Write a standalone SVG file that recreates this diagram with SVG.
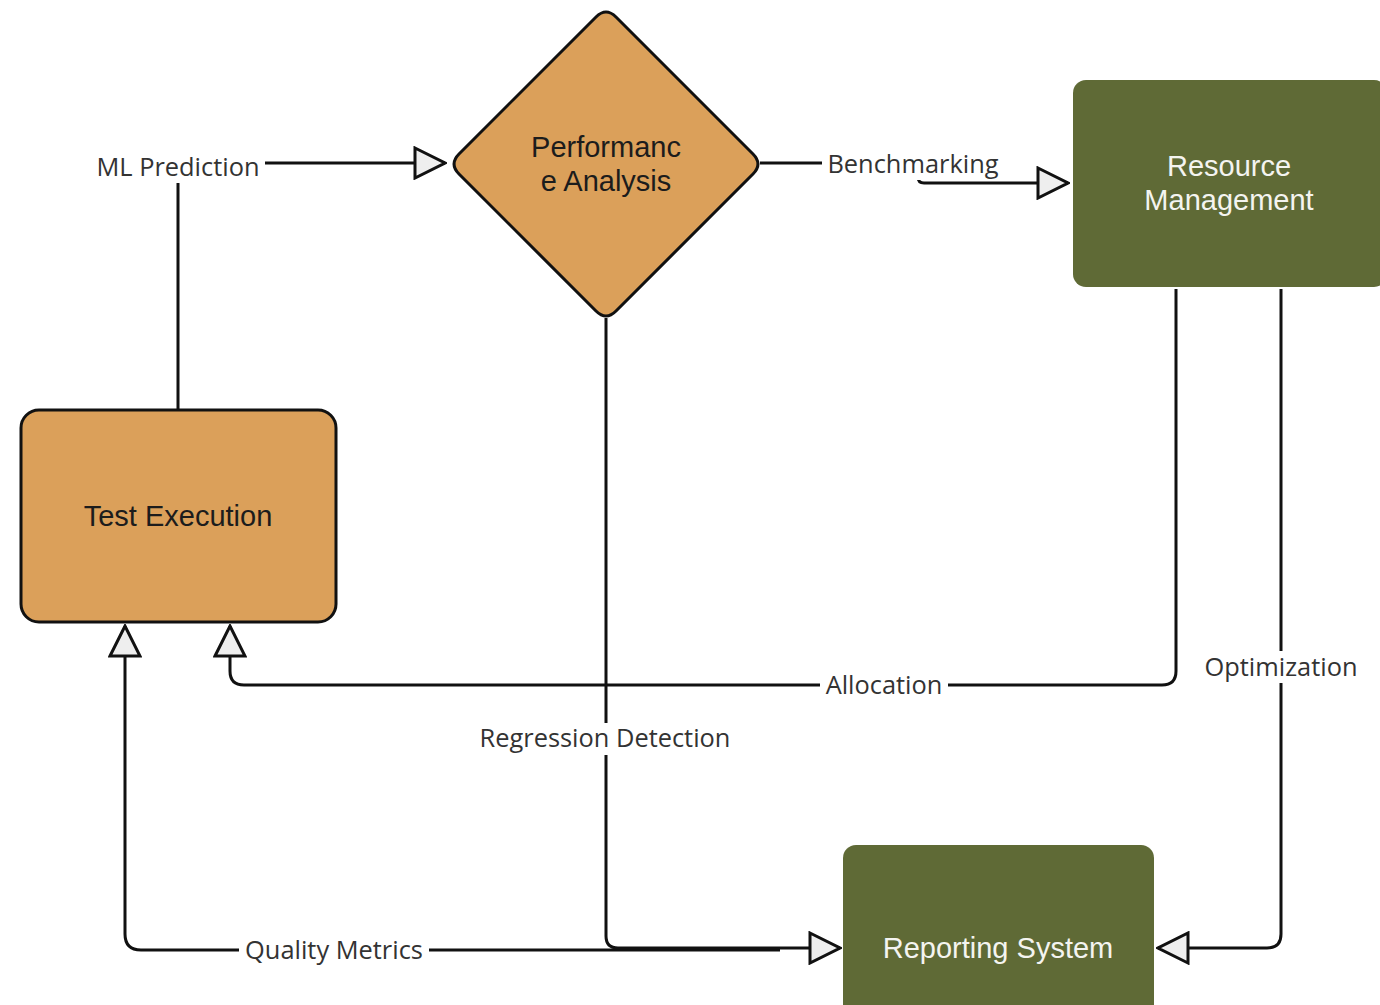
<svg xmlns="http://www.w3.org/2000/svg" width="1380" height="1005" viewBox="0 0 1380 1005">
<style>
.edge{fill:none;stroke:#111;stroke-width:3;stroke-linejoin:round;marker-end:url(#arr)}
.orange{fill:#DBA05A;stroke:#111;stroke-width:3}
.olive{fill:#5F6A36;stroke:none}
.ntxt{font-family:"Liberation Sans",Arial,sans-serif;font-size:29px;text-anchor:middle}
.dark{fill:#1c1c1c}
.light{fill:#f4f4f0}
.lbl{font-family:"Open Sans","Noto Sans",sans-serif;font-size:25.4px;fill:#333;text-anchor:middle}
.lblbg{fill:#fff}
</style>
<defs>
<marker id="arr" viewBox="0 0 34 34" refX="32" refY="17" markerWidth="34" markerHeight="34" markerUnits="userSpaceOnUse" orient="auto">
<path d="M2,2 L32,17 L2,32 Z" fill="#eeeeee" stroke="#111" stroke-width="3" stroke-linejoin="miter"/>
</marker>
</defs>
<rect width="1380" height="1005" fill="#fff"/>
<g id="connectors">
<path class="edge" d="M178,410 V163 H445"/>
<path class="edge" d="M760,163 H912 Q918,163 918,169 V177 Q918,183 924,183 H1068"/>
<path class="edge" d="M780,950 H141 Q125,950 125,934 V626"/>
<path class="edge" d="M606,318 V936 Q606,948 618,948 H840"/>
<path class="edge" d="M1176,289 V671 Q1176,685 1162,685 H244 Q230,685 230,671 V626"/>
<path class="edge" d="M1281,289 V934 Q1281,948 1267,948 H1158"/>
<g id="labels">
<rect class="lblbg" x="91" y="151" width="174" height="32"/>
<text class="lbl" x="178" y="176">ML Prediction</text>
<rect class="lblbg" x="822" y="148" width="182" height="32"/>
<text class="lbl" x="913" y="173">Benchmarking</text>
<rect class="lblbg" x="820" y="670" width="128" height="32"/>
<text class="lbl" x="884" y="694">Allocation</text>
<rect class="lblbg" x="1200" y="651" width="163" height="32"/>
<text class="lbl" x="1281" y="676">Optimization</text>
<rect class="lblbg" x="474" y="723" width="263" height="32"/>
<text class="lbl" x="605" y="747">Regression Detection</text>
<rect class="lblbg" x="239" y="935" width="190" height="32"/>
<text class="lbl" x="334" y="959">Quality Metrics</text>
</g>
</g>
<g id="node-performance">
<path class="orange" d="M596,17 Q606,7 616,17 L753,154 Q763,164 753,174 L616,311 Q606,321 596,311 L459,174 Q449,164 459,154 Z"/>
<text class="ntxt dark" x="606" y="157">Performanc</text>
<text class="ntxt dark" x="606" y="191">e Analysis</text>
</g>
<g id="node-resource">
<rect class="olive" x="1073" y="80" width="314" height="207" rx="13"/>
<text class="ntxt light" x="1229" y="176">Resource</text>
<text class="ntxt light" x="1229" y="210">Management</text>
</g>
<g id="node-test">
<rect class="orange" x="21" y="410" width="315" height="212" rx="18"/>
<text class="ntxt dark" x="178" y="526">Test Execution</text>
</g>
<g id="node-reporting">
<rect class="olive" x="843" y="845" width="311" height="210" rx="13"/>
<text class="ntxt light" x="998" y="958">Reporting System</text>
</g>
</svg>
